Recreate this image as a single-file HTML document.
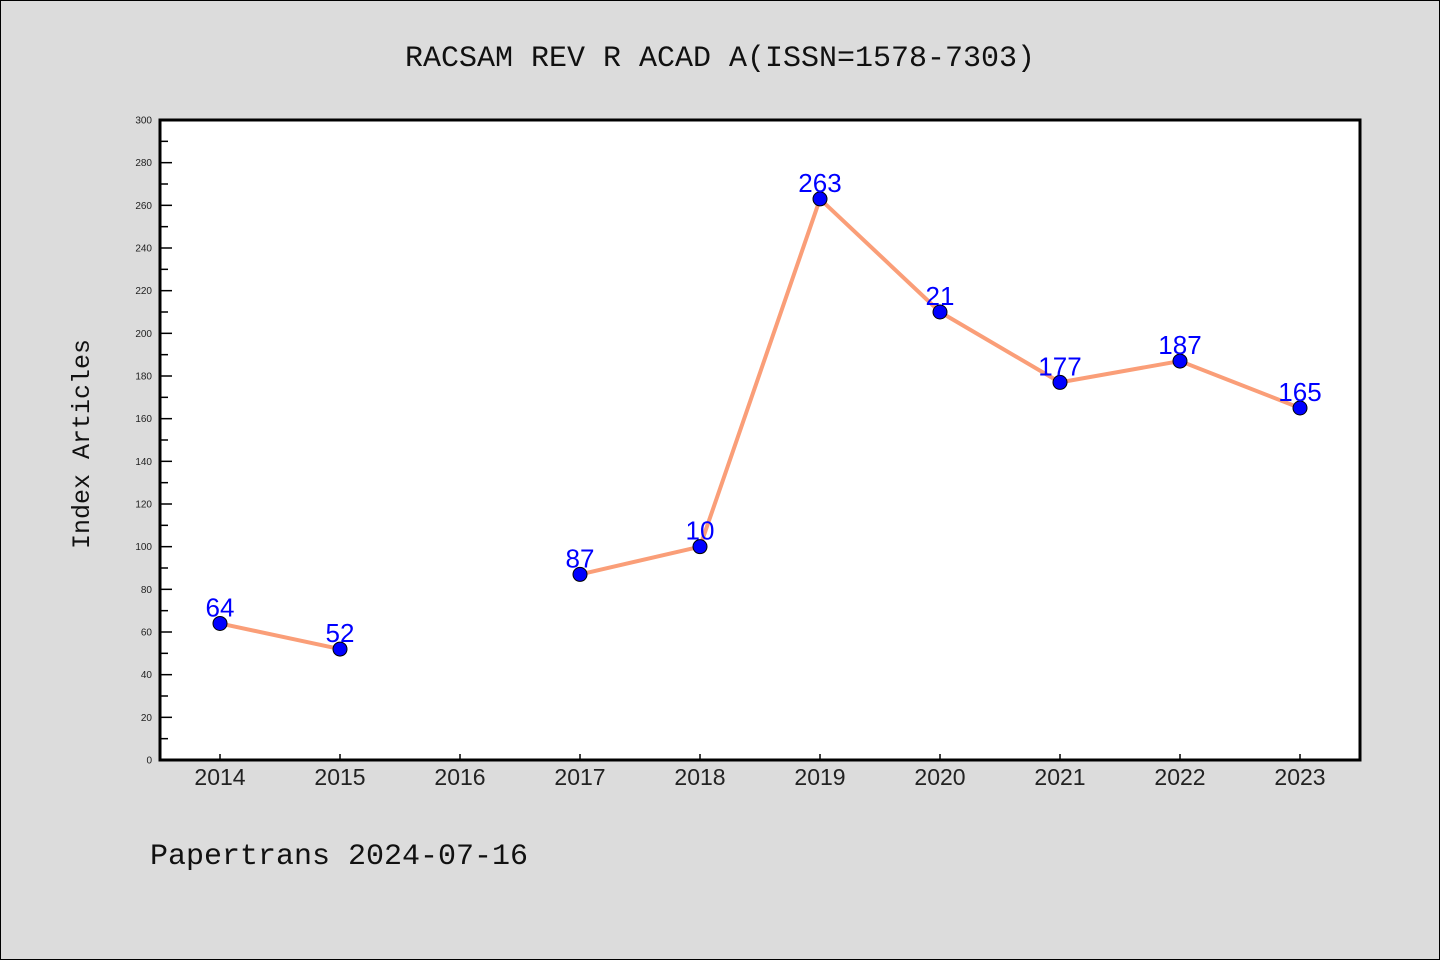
<!DOCTYPE html>
<html><head><meta charset="utf-8"><style>
body{margin:0;background:#dcdcdc;}
svg{display:block}
</style></head><body>
<svg id="c" width="1440" height="960" xmlns="http://www.w3.org/2000/svg">
<rect x="0.5" y="0.5" width="1439" height="959" fill="#dcdcdc" stroke="#000"/>
<text x="720" y="66" text-anchor="middle" font-family="'Liberation Mono','Noto Sans CJK SC',monospace" font-size="30" fill="#111">RACSAM REV R ACAD A(ISSN=1578-7303)</text>
<rect x="160" y="120" width="1200" height="640" fill="#fff"/>
<g id="yax"></g><g id="xax"></g><g id="series"></g>
<rect x="160" y="120" width="1200" height="640" fill="none" stroke="#000" stroke-width="3"/>
<text transform="translate(89,444) rotate(-90)" text-anchor="middle" font-family="'Liberation Mono',monospace" font-size="25" fill="#111">Index Articles</text>
<text x="150" y="864" font-family="'Liberation Mono',monospace" font-size="30" fill="#111">Papertrans 2024-07-16</text>
</svg>
<script>
const years=["2014","2015","2016","2017","2018","2019","2020","2021","2022","2023"];
const values=[64,52,null,87,100,263,210,177,187,165];
const pointLabels=["64","52","","87","10","263","21","177","187","165"];
const yTicks=[0,20,40,60,80,100,120,140,160,180,200,220,240,260,280,300];
const NS="http://www.w3.org/2000/svg";
const x=i=>220+i*120;
const y=v=>760-v*640/300;
function mk(t,a,p){const e=document.createElementNS(NS,t);for(const k in a)e.setAttribute(k,a[k]);p.appendChild(e);return e;}
const ya=document.getElementById('yax'),xa=document.getElementById('xax'),s=document.getElementById('series');
yTicks.forEach((v,i)=>{
 const l=mk('line',{x1:160,x2:172,y1:y(v),y2:y(v),stroke:'#000','stroke-width':1.5},ya);
 
 
 const t=mk('text',{x:152,y:y(v)+3.5,'text-anchor':'end','font-family':'Liberation Sans,sans-serif','font-size':10,fill:'#222'},ya);
 t.textContent=v;
 
 
 if(i<yTicks.length-1){const m=mk('line',{x1:160,x2:168,y1:y(v+10),y2:y(v+10),stroke:'#000','stroke-width':1.5},ya);
 
 }
});
years.forEach((yr,i)=>{
 const l=mk('line',{x1:x(i),x2:x(i),y1:760,y2:754,stroke:'#000','stroke-width':1.5},xa);
 
 
 const t=mk('text',{x:x(i),y:785,'text-anchor':'middle','font-family':'Liberation Sans,sans-serif','font-size':23,fill:'#222'},xa);
 t.textContent=yr;
 
 
});
let seg=[];const segs=[];
values.forEach((v,i)=>{if(v==null){if(seg.length)segs.push(seg);seg=[];}else seg.push([x(i),y(v)]);});
if(seg.length)segs.push(seg);
segs.forEach(sg=>{
 const p=mk('polyline',{points:sg.map(q=>q.join(',')).join(' '),fill:'none',stroke:'#fa9e78','stroke-width':4,'stroke-linejoin':'round'},s);
 
 
});
values.forEach((v,i)=>{
 if(v==null)return;
 const c=mk('circle',{cx:x(i),cy:y(v),r:7,fill:'#0000ff',stroke:'#000','stroke-width':1},s);
 
 
 const t=mk('text',{x:x(i),y:y(v)-7,'text-anchor':'middle','font-family':'Liberation Sans,sans-serif','font-size':26,fill:'#0000ff'},s);
 t.textContent=pointLabels[i];
 
 
});
</script>
</body></html>
